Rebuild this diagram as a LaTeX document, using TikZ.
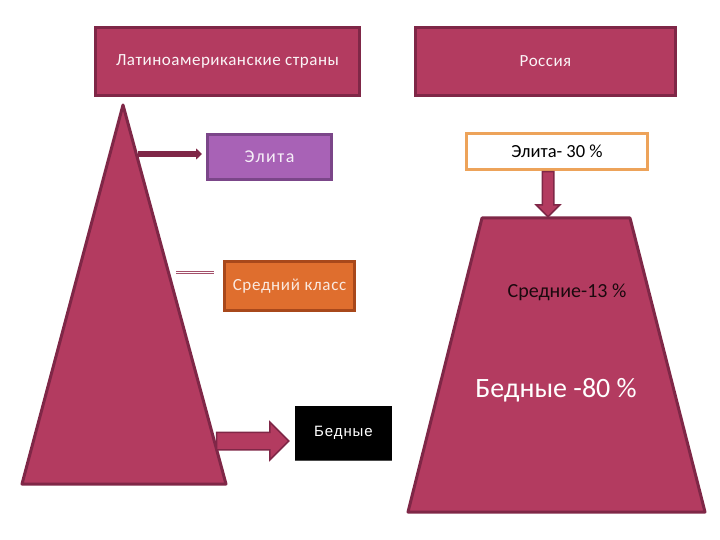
\documentclass[tikz,border=0pt]{standalone}
\usepackage{fontspec}
\setmainfont{Carlito}
\newfontfamily\arialfont{Liberation Sans}
\usetikzlibrary{arrows.meta,calc,shapes.arrows}

\definecolor{berry}{HTML}{B33B60}
\definecolor{berrydark}{HTML}{7F2747}
\definecolor{lilac}{HTML}{A862B6}
\definecolor{lilacdark}{HTML}{7B4689}
\definecolor{carrot}{HTML}{DF6E2E}
\definecolor{carrotdark}{HTML}{A8481B}
\definecolor{peach}{HTML}{EDA35A}

\begin{document}
\begin{tikzpicture}[x=1pt, y=-1pt,
	titlebox/.style={draw=berrydark, line width=3.5pt, fill=berry, text=white!95!berry, minimum height=68pt, font=\fontsize{17}{20}\selectfont\addfontfeature{LetterSpace=3}},
	classbox/.style={line width=3pt},
	blockarrow/.style={single arrow, draw=berrydark, fill=berry, line width=1.5pt, single arrow head indent=0pt}]
	\useasboundingbox (0,0) rectangle (720,540);
	% headers
	\node[titlebox, minimum width=264pt] (latam) at (227.5,61.5) {Латиноамериканские страны};
	\node[titlebox, minimum width=260pt] (russia) at (545.5,61.5) {Россия};
	% left pyramid
	\coordinate (apex) at (123,105);
	\coordinate (baseL) at (22,484);
	\coordinate (baseR) at (226,484);
	\draw[berrydark, fill=berry, line width=3pt, line join=round] (apex) -- (baseR) -- (baseL) -- cycle;
	\node[classbox, draw=lilacdark, fill=lilac, text=white!90!lilac, minimum width=124pt, minimum height=45pt, font=\fontsize{18}{21}\selectfont\addfontfeature{LetterSpace=8}] (elite) at (269.5,157) {Элита};
	\node[classbox, draw=carrotdark, fill=carrot, text=white!85!carrot, minimum width=130pt, minimum height=49pt, font=\fontsize{17}{20}\selectfont\addfontfeature{LetterSpace=4}] (middle) at (289.5,286) {Средний класс};
	\node[fill=black, text=white, minimum width=97pt, minimum height=54pt, font=\arialfont\fontsize{15}{18}\selectfont\addfontfeature{LetterSpace=6}] (poor) at (343.5,433) {Бедные};
	\draw[black!70, line width=0.8pt] (poor.south west) -- (poor.south east);
	\coordinate (eliteFrom) at (138,154);
	\draw[berrydark, line width=5.5pt, -{Triangle[length=6pt,width=11pt]}, shorten >=4pt] (eliteFrom) -- (eliteFrom -| elite.west);
	\coordinate (middleFrom) at (176,272.5);
	\draw[berry!70!gray, double, double distance=1.8pt, line width=0.6pt, shorten >=9pt] (middleFrom) -- (middleFrom -| middle.west);
	\node[blockarrow, minimum height=72pt, inner sep=8pt, single arrow head extend=10pt, anchor=tip] (poorArrow) at ($(poor.west)+(-5,8)$) {};
	% right pyramid
	\node[draw=peach, line width=3pt, fill=white, minimum width=181pt, minimum height=36pt, font=\fontsize{18.5}{22}\selectfont] (eliteRu) at (557,151.5) {Элита- 30 \%};
	\coordinate (topL) at (482,218);
	\coordinate (topR) at (630,218);
	\coordinate (botR) at (705,512);
	\coordinate (botL) at (408,512);
	\draw[berrydark, fill=berry, line width=3pt, line join=round] (topL) -- (topR) -- (botR) -- (botL) -- cycle;
	\node[blockarrow, shape border rotate=270, minimum height=45pt, inner sep=5pt, single arrow head extend=6pt, anchor=tail] (eliteArrow) at ($(eliteRu.south)+(-9,0)$) {};
	\node[text=black!85!berry, font=\fontsize{20}{24}\selectfont] (middleRu) at (567,292) {Средние-13 \%};
	\node[text=white, font=\fontsize{28}{33}\selectfont] (poorRu) at (556,390) {Бедные -80 \%};
\end{tikzpicture}
\end{document}
